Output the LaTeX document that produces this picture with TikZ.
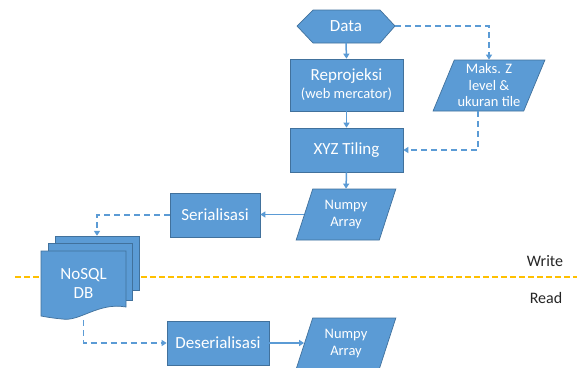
\documentclass[tikz,border=0pt]{standalone}
\usepackage{fontspec}
\setmainfont{Carlito}
\usetikzlibrary{shapes.geometric,arrows.meta}
\definecolor{boxfill}{HTML}{5B9BD5}
\definecolor{boxline}{HTML}{41719C}
\definecolor{gold}{HTML}{FFC000}
\definecolor{txt}{HTML}{262626}
\begin{document}
\begin{tikzpicture}[x=1pt,y=-1pt,
  box/.style={draw=boxline, line width=0.7pt, fill=boxfill, text=white,
    font=\fontsize{17}{19}\selectfont, align=center, inner sep=0pt},
  para/.style={box, trapezium, trapezium stretches=true,
    font=\fontsize{14.5}{17.5}\selectfont},
  ghost/.style={inner sep=0pt, text=white, align=center},
  flow/.style={draw=boxfill, line width=1.5pt, -{Triangle[length=5pt,width=6pt]}},
  dflow/.style={flow, dash pattern=on 6pt off 4pt},
  lbl/.style={text=txt, font=\fontsize{16}{19}\selectfont, inner sep=0pt},
]
\useasboundingbox (0,0) rectangle (577,367);
\fill[white] (0,0) rectangle (577,367);

% Write/Read separator
\draw[gold, line width=1.6pt, dash pattern=on 6pt off 3pt] (15,277) -- (577,277);
\node[lbl] (write) at (545,261) {Write};
\node[lbl] (read) at (546,298) {Read};

% Data hexagon
\filldraw[fill=boxfill, draw=boxline, line width=0.7pt]
  (297,26) -- (313,10) -- (380,10) -- (395,26) -- (380,43) -- (313,43) -- cycle;
\node[ghost, minimum width=98pt, minimum height=33pt, font=\fontsize{17}{19}\selectfont] (data) at (346,26) {Data};

% main column
\node[box, minimum width=113pt, minimum height=52pt] (rep) at (346.5,85)
  {Reprojeksi\\[-1pt]{\fontsize{14.5}{17}\selectfont(web mercator)}};
\node[box, minimum width=113pt, minimum height=44pt] (xyz) at (346.5,150) {XYZ Tiling};
\node[para, trapezium left angle=70, trapezium right angle=110,
  minimum width=100pt, minimum height=51pt] (np1) at (346,214.5) {Numpy\\Array};
\node[para, trapezium left angle=66, trapezium right angle=114,
  minimum width=112pt, minimum height=51pt, font=\fontsize{14.5}{16.5}\selectfont] (maks) at (489,85.5)
  {Maks. Z\\level \&\\ukuran tile};
\coordinate (maksout) at ([xshift=-11pt]maks.south);
\node[box, minimum width=90pt, minimum height=44pt] (ser) at (215,215) {Serialisasi};
\node[box, minimum width=102pt, minimum height=44pt] (deser) at (218,343) {Deserialisasi};
\node[para, trapezium left angle=70, trapezium right angle=110,
  minimum width=100pt, minimum height=51pt] (np2) at (346,343.5) {Numpy\\Array};

% NoSQL multi-document
\filldraw[fill=boxfill, draw=boxline, line width=0.7pt] (55,236) rectangle (139,290);
\filldraw[fill=boxfill, draw=boxline, line width=0.7pt] (48,243) rectangle (132,300);
\filldraw[fill=boxfill, draw=boxline, line width=0.7pt]
  (41,251) -- (126,251) -- (126,307) .. controls (98,302) and (80,322) .. (62,319)
  .. controls (52,318) and (46,317) .. (41,316) -- cycle;
\node[inner sep=0pt, minimum width=84pt, minimum height=54pt] (dbback) at (97,263) {};
\node[inner sep=0pt, minimum width=85pt, minimum height=69pt] (db) at (83.5,285.5) {};
\node[ghost, font=\fontsize{17}{19.5}\selectfont] (dbtext) at (83.5,283.5) {NoSQL\\DB};

% connectors
\draw[flow] (data.south) -- (rep.north);
\draw[flow] (rep.south) -- (xyz.north);
\draw[flow] (xyz.south) -- (np1.north);
\draw[flow] (np1.west) -- (np1.west -| ser.east);
\draw[dflow] (ser.west) -| (dbback.north);
\draw[dflow] (db.south) |- (deser.west);
\draw[flow] (deser.east) -- (deser.east -| np2.west);
\draw[dflow] (data.east) -| (maks.north);
\draw[dflow] (maksout) |- (xyz.east);
\end{tikzpicture}
\end{document}
